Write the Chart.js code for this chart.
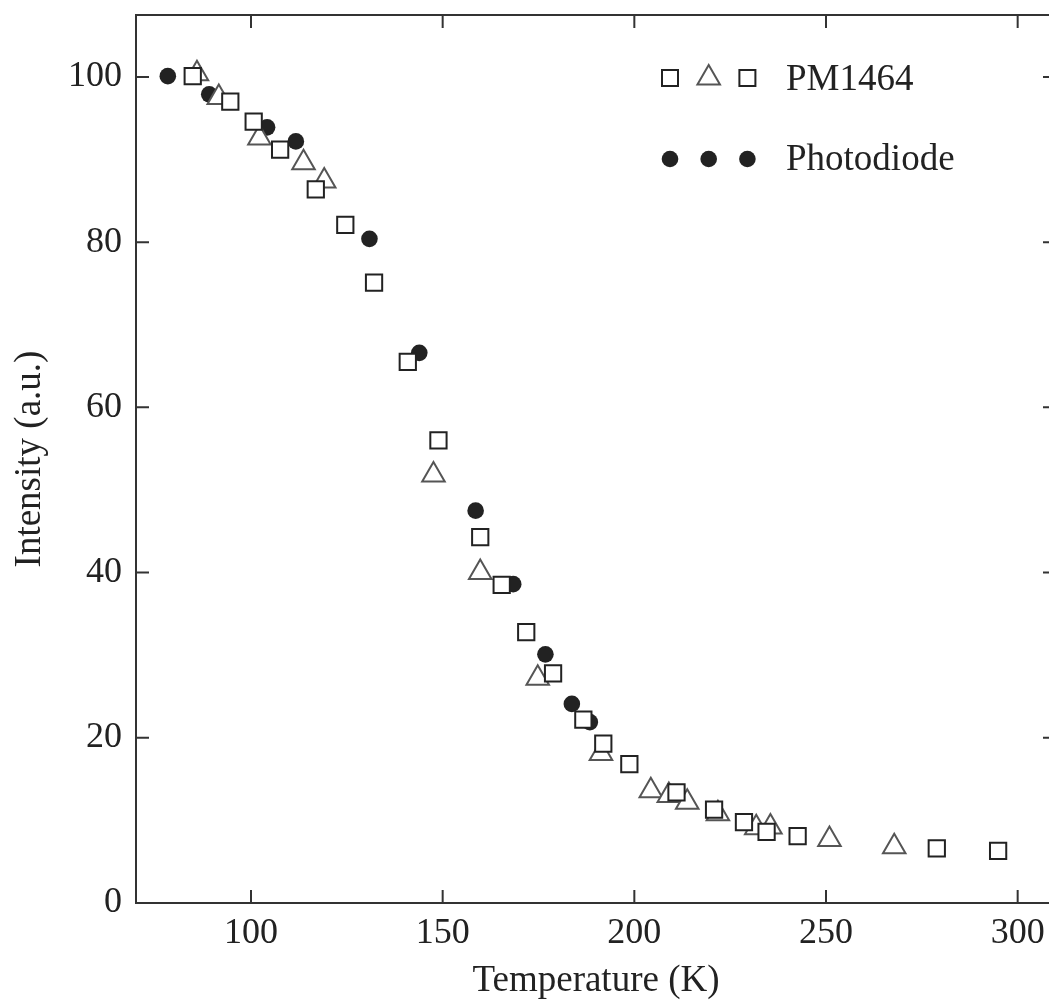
<!DOCTYPE html>
<html>
<head>
<meta charset="utf-8">
<script src="https://cdn.jsdelivr.net/npm/chart.js@4.4.1/dist/chart.umd.min.js"></script>
<style>
  html, body { margin: 0; padding: 0; background: #fff; overflow: hidden; }
</style>
</head>
<body>
<canvas id="myChart" width="1071" height="1006"></canvas>
<script>
// PM1464 data, square markers
const squareTemp = [84.8, 94.6, 100.7, 107.6, 116.9, 124.6, 132.1, 140.9, 148.9, 159.8, 165.4, 171.8,
  178.8, 186.7, 191.9, 198.7, 211.0, 220.8, 228.6, 234.5, 242.6, 278.9, 294.9]
const squareInt = [100.1, 97.0, 94.6, 91.2, 86.4, 82.1, 75.1, 65.5, 56.0, 44.3, 38.5, 32.8,
  27.8, 22.2, 19.3, 16.8, 13.4, 11.3, 9.8, 8.6, 8.1, 6.6, 6.3]

// PM1464 data, triangle markers
const triTemp = [85.9, 91.6, 102.2, 113.7, 119.1, 147.6, 159.8, 174.8, 191.3, 204.3, 209.0, 213.8,
  221.8, 231.8, 235.5, 250.9, 267.8]
const triInt = [100.4, 97.5, 92.6, 89.6, 87.4, 51.8, 40.0, 27.2, 18.1, 13.6, 13.0, 12.2,
  10.8, 9.1, 9.2, 7.7, 6.8]

// Photodiode data, filled circles
const diodeTemp = [78.3, 89.1, 104.2, 111.7, 130.9, 143.9, 158.6, 168.4, 176.8, 183.7, 188.4]
const diodeInt = [100.1, 97.9, 93.9, 92.2, 80.4, 66.6, 47.5, 38.6, 30.1, 24.1, 21.9]

const xTicks = [100, 150, 200, 250, 300]
const yTicks = [0, 20, 40, 60, 80, 100]

const FONT = "'Liberation Serif', 'DejaVu Serif', serif"
const INK = '#222'

function toPoints(xs, ys) {
  var pts = []
  for (var i = 0; i < xs.length; i++) {
    pts.push({x: xs[i], y: ys[i]})
  }
  return pts
}

// frame on all four sides, ticks pointing into the plot
// (canvas is a bit wider than the window so the right side is cut off, as in the scan)
const frameTicks = {
  id: 'frameTicks',
  afterDraw(chart) {
    const ctx = chart.ctx
    const a = chart.chartArea
    const xs = chart.scales.x, ys = chart.scales.y
    const len = 13
    ctx.save()
    ctx.strokeStyle = '#333'
    ctx.lineWidth = 2
    ctx.strokeRect(a.left, a.top, a.right - a.left, a.bottom - a.top)
    ctx.beginPath()
    xTicks.forEach(function (v) {
      const px = xs.getPixelForValue(v)
      ctx.moveTo(px, a.bottom); ctx.lineTo(px, a.bottom - len)
      ctx.moveTo(px, a.top); ctx.lineTo(px, a.top + len)
    })
    yTicks.forEach(function (v) {
      const py = ys.getPixelForValue(v)
      ctx.moveTo(a.left, py); ctx.lineTo(a.left + len, py)
      ctx.moveTo(a.right, py); ctx.lineTo(a.right - len, py)
    })
    ctx.stroke()
    ctx.restore()
  }
}

// legend: three markers per entry, like the original figure
const markerLegend = {
  id: 'markerLegend',
  afterDraw(chart) {
    const ctx = chart.ctx
    const a = chart.chartArea
    const x0 = a.left + 534, row1 = a.top + 62, row2 = a.top + 144
    const gap = 38.7
    ctx.save()
    ctx.lineWidth = 2
    function square(cx, cy) {
      ctx.fillStyle = '#fff'; ctx.strokeStyle = INK
      ctx.beginPath(); ctx.rect(cx - 8, cy - 8, 16, 16); ctx.fill(); ctx.stroke()
    }
    function tri(cx, cy) {
      const r = 13
      ctx.fillStyle = '#fff'; ctx.strokeStyle = '#555'
      ctx.beginPath()
      ctx.moveTo(cx, cy - r)
      ctx.lineTo(cx + r * 0.866, cy + r * 0.5)
      ctx.lineTo(cx - r * 0.866, cy + r * 0.5)
      ctx.closePath(); ctx.fill(); ctx.stroke()
    }
    function dot(cx, cy) {
      ctx.fillStyle = INK
      ctx.beginPath(); ctx.arc(cx, cy, 8.3, 0, Math.PI * 2); ctx.fill()
    }
    // row 1: square, triangle, square ; row 2: three dots
    square(x0, row1 + 1)
    tri(x0 + gap, row1 + 1)
    square(x0 + 2 * gap, row1 + 1)
    dot(x0, row2); dot(x0 + gap, row2); dot(x0 + 2 * gap, row2)
    ctx.fillStyle = INK
    ctx.font = '37px ' + FONT
    ctx.textBaseline = 'alphabetic'
    ctx.fillText('PM1464', x0 + 116, row1 + 13)
    ctx.fillText('Photodiode', x0 + 116, row2 + 11)
    ctx.restore()
  }
}

function updateChart() {
  const ctx = document.getElementById('myChart').getContext('2d')
  const chart = new Chart(ctx, {
    type: 'scatter',
    data: {
      datasets: [{
        label: 'PM1464',
        data: toPoints(squareTemp, squareInt),
        pointStyle: 'rect',
        pointRadius: 11.5,
        pointBorderWidth: 2,
        borderColor: INK,
        backgroundColor: '#fff'
      }, {
        label: 'PM1464 (triangles)',
        data: toPoints(triTemp, triInt),
        pointStyle: 'triangle',
        pointRadius: 13,
        pointBorderWidth: 2,
        borderColor: '#555',
        backgroundColor: '#fff'
      }, {
        label: 'Photodiode',
        data: toPoints(diodeTemp, diodeInt),
        pointStyle: 'circle',
        pointRadius: 8.3,
        pointBorderWidth: 0,
        borderColor: INK,
        backgroundColor: INK
      }]
    },
    options: {
      responsive: false,
      animation: false,
      devicePixelRatio: 1,
      layout: { padding: { left: 0, top: 5, right: 0, bottom: 0 } },
      plugins: {
        legend: { display: false },
        tooltip: { enabled: false }
      },
      scales: {
        x: {
          type: 'linear',
          min: 70,
          max: 310,
          afterFit: function (s) {
            s.height = 103
            s.paddingLeft = 0; s.paddingRight = 0
          },
          afterBuildTicks: function (s) { s.ticks = xTicks.map(function (v) { return {value: v} }) },
          grid: { display: false, drawTicks: false },
          border: { display: false },
          ticks: {
            padding: 9,
            color: INK,
            font: { family: FONT, size: 36 },
            maxRotation: 0
          },
          title: {
            display: true,
            text: 'Temperature (K)',
            color: INK,
            font: { family: FONT, size: 37 },
            padding: { top: 0, bottom: 3 }
          }
        },
        y: {
          type: 'linear',
          min: 0,
          max: 107.5,
          afterFit: function (s) {
            s.width = 136
            s.paddingTop = 0; s.paddingBottom = 0
          },
          afterBuildTicks: function (s) { s.ticks = yTicks.map(function (v) { return {value: v} }) },
          grid: { display: false, drawTicks: false },
          border: { display: false },
          ticks: {
            padding: 14,
            color: INK,
            font: { family: FONT, size: 36 }
          },
          title: {
            display: true,
            text: 'Intensity (a.u.)',
            color: INK,
            font: { family: FONT, size: 37 },
            padding: { top: 8, bottom: 0 }
          }
        }
      }
    },
    plugins: [frameTicks, markerLegend]
  })
}

updateChart()
</script>
</body>
</html>
